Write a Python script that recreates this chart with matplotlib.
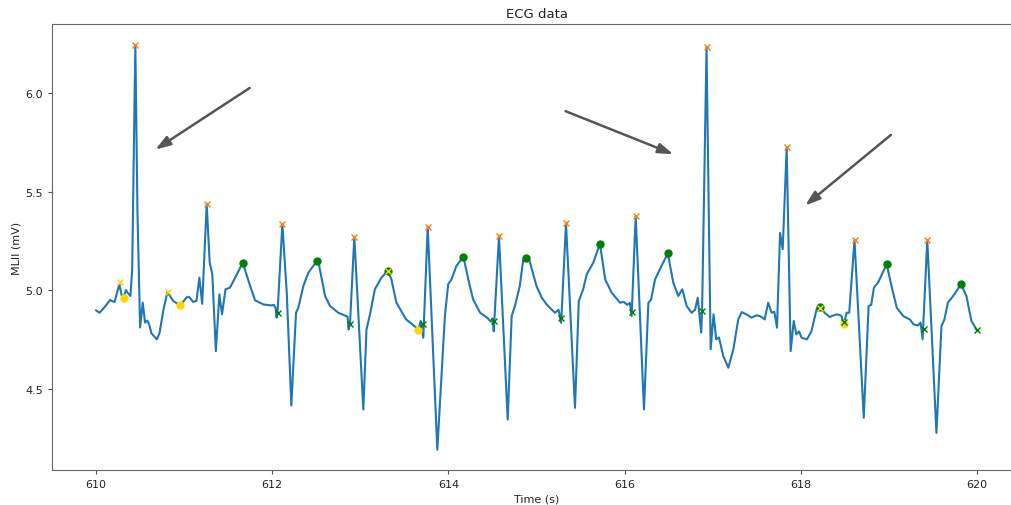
import matplotlib.pyplot as plt
import numpy as np

# ECG trace
time_s = [610.00, 610.04, 610.10, 610.16, 610.18, 610.21, 610.265, 610.29, 610.31, 610.34,
          610.36, 610.39, 610.41, 610.446, 610.47, 610.50, 610.53, 610.556, 610.58, 610.60,
          610.63, 610.69, 610.72, 610.765, 610.81, 610.877, 610.957, 611.03, 611.06, 611.10,
          611.14, 611.173, 611.205, 611.256, 611.29, 611.32, 611.36, 611.40, 611.43, 611.47,
          611.52, 611.56, 611.665, 611.75, 611.805, 611.86, 611.90, 611.99, 612.02, 612.04,
          612.05, 612.06, 612.115, 612.165, 612.217, 612.27, 612.296, 612.353, 612.41, 612.505,
          612.53, 612.60, 612.656, 612.75, 612.83, 612.855, 612.868, 612.883, 612.932, 613.034,
          613.07, 613.11, 613.165, 613.24, 613.31, 613.35, 613.41, 613.52, 613.59, 613.66,
          613.685, 613.715, 613.765, 613.874, 613.96, 613.998, 614.035, 614.09, 614.17, 614.226,
          614.28, 614.36, 614.44, 614.48, 614.50, 614.515, 614.574, 614.673, 614.718, 614.755,
          614.81, 614.85, 614.88, 614.92, 615.00, 615.06, 615.115, 615.17, 615.21, 615.25,
          615.28, 615.335, 615.437, 615.48, 615.53, 615.57, 615.645, 615.72, 615.78, 615.853,
          615.948, 615.99, 616.03, 616.06, 616.08, 616.126, 616.22, 616.27, 616.30, 616.346,
          616.40, 616.49, 616.553, 616.61, 616.655, 616.705, 616.76, 616.80, 616.83, 616.855,
          616.87, 616.88, 616.93, 616.977, 617.01, 617.04, 617.07, 617.09, 617.12, 617.178,
          617.235, 617.29, 617.33, 617.39, 617.44, 617.50, 617.55, 617.59, 617.63, 617.67,
          617.70, 617.73, 617.765, 617.795, 617.84, 617.885, 617.92, 617.95, 617.98, 618.01,
          618.07, 618.12, 618.18, 618.22, 618.27, 618.33, 618.35, 618.41, 618.46, 618.49,
          618.52, 618.55, 618.61, 618.715, 618.77, 618.80, 618.83, 618.88, 618.975, 619.03,
          619.09, 619.164, 619.24, 619.28, 619.33, 619.36, 619.383, 619.436, 619.54, 619.597,
          619.63, 619.67, 619.73, 619.82, 619.88, 619.937, 620.00]
mlii = [4.897, 4.885, 4.915, 4.95, 4.944, 4.94, 5.03, 4.975, 4.96, 5.00,
        4.985, 4.97, 5.1, 6.245, 5.4, 4.81, 4.936, 4.835, 4.845, 4.83,
        4.78, 4.75, 4.78, 4.90, 4.99, 4.944, 4.922, 4.964, 4.964, 4.94,
        4.945, 5.063, 4.93, 5.435, 5.14, 5.08, 4.69, 4.978, 4.877, 5.004,
        5.012, 5.046, 5.139, 5.02, 4.948, 4.936, 4.927, 4.922, 4.925, 4.905,
        4.86, 4.885, 5.335, 4.987, 4.414, 4.885, 4.91, 5.02, 5.088, 5.147,
        5.13, 4.97, 4.919, 4.885, 4.87, 4.865, 4.80, 4.83, 5.271, 4.394,
        4.80, 4.877, 5.004, 5.063, 5.097, 5.06, 4.936, 4.851, 4.826, 4.80,
        4.843, 4.758, 5.322, 4.19, 4.868, 5.03, 5.054, 5.122, 5.17, 5.054,
        4.953, 4.885, 4.86, 4.84, 4.855, 4.79, 5.274, 4.343, 4.868, 4.919,
        5.02, 5.156, 5.163, 5.15, 5.02, 4.961, 4.927, 4.902, 4.885, 4.90,
        4.834, 5.339, 4.402, 4.944, 5.004, 5.08, 5.139, 5.236, 5.054, 4.987,
        4.936, 4.94, 4.925, 4.935, 4.868, 5.376, 4.394, 4.936, 4.95, 5.054,
        5.105, 5.186, 5.037, 4.97, 5.004, 4.919, 4.885, 4.90, 4.961, 4.85,
        4.784, 4.90, 6.232, 4.70, 4.877, 4.75, 4.76, 4.724, 4.665, 4.606,
        4.70, 4.851, 4.888, 4.875, 4.86, 4.872, 4.865, 4.851, 4.936, 4.885,
        4.89, 4.809, 5.29, 5.207, 5.724, 4.69, 4.843, 4.775, 4.79, 4.758,
        4.75, 4.79, 4.902, 4.916, 4.885, 4.863, 4.868, 4.877, 4.87, 4.826,
        4.885, 4.885, 5.254, 4.352, 4.919, 4.925, 5.012, 5.04, 5.132, 5.02,
        4.91, 4.868, 4.85, 4.826, 4.82, 4.835, 4.75, 5.254, 4.275, 4.817,
        4.85, 4.936, 4.97, 5.03, 4.97, 4.843, 4.797]

# R peaks (orange x)
r_t = [610.446, 611.256, 612.115, 612.932, 613.765, 614.574, 615.335, 616.126, 616.93, 617.84, 618.61, 619.436]
r_v = [6.245, 5.435, 5.335, 5.271, 5.322, 5.274, 5.339, 5.376, 6.232, 5.724, 5.254, 5.254]
# T peaks (green dots)
t_t = [611.665, 612.505, 613.31, 614.17, 614.88, 615.72, 616.49, 618.22, 618.975, 619.82]
t_v = [5.139, 5.147, 5.097, 5.17, 5.163, 5.236, 5.186, 4.916, 5.132, 5.03]
# green x
q_t = [612.06, 612.883, 613.715, 614.52, 615.28, 616.08, 616.88, 618.22, 618.49, 619.40, 620.00]
q_v = [4.885, 4.83, 4.826, 4.843, 4.86, 4.89, 4.894, 4.91, 4.84, 4.80, 4.797]
# yellow x
p_t = [610.27, 610.82, 613.31, 618.22]
p_v = [5.04, 4.99, 5.097, 4.91]
# yellow dots
o_t = [610.32, 610.957, 613.66, 618.49]
o_v = [4.958, 4.922, 4.795, 4.826]

# annotation arrows: (tail, head)
arrows = [((611.77, 6.033), (610.647, 5.705)),
          ((615.30, 5.913), (616.583, 5.684)),
          ((619.047, 5.796), (618.025, 5.42))]

fig = plt.figure(figsize=(10.11, 5.06), dpi=100)
ax = fig.add_axes([52/1011, 35/506, 969/1011, 446/506])

ax.plot(time_s, mlii, color='#1f77b4', lw=1.5, zorder=2)
ax.plot(r_t, r_v, 'x', color='#ff7f0e', ms=4.5, mew=1.0, zorder=3)
ax.plot(t_t, t_v, 'o', color='green', ms=5, zorder=3)
ax.plot(q_t, q_v, 'x', color='green', ms=4.5, mew=1.0, zorder=4)
ax.plot(p_t, p_v, 'x', color='gold', ms=4.5, mew=1.0, zorder=4)
ax.plot(o_t, o_v, 'o', color='gold', ms=5, zorder=3)

for tail, head in arrows:
    ax.annotate('', xy=head, xytext=tail,
                arrowprops=dict(arrowstyle='-|>,head_length=0.9,head_width=0.3',
                                color='#555555', lw=1.8))

ax.set_xlim(609.5, 620.5)
ax.set_ylim(4.087, 6.35)
ax.set_xticks([610, 612, 614, 616, 618, 620])
ax.set_yticks([4.5, 5.0, 5.5, 6.0])
ax.tick_params(labelsize=8, length=3, color='#555555', labelcolor='#222222')
for s in ax.spines.values():
    s.set_color('#666666')
ax.spines['right'].set_visible(False)
ax.set_title('ECG data', fontsize=9.5, color='#222222', pad=5)
ax.set_xlabel('Time (s)', fontsize=8, color='#222222', labelpad=3)
ax.set_ylabel('MLII (mV)', fontsize=8, color='#222222', labelpad=3)

fig.savefig('out.png', dpi=100)
